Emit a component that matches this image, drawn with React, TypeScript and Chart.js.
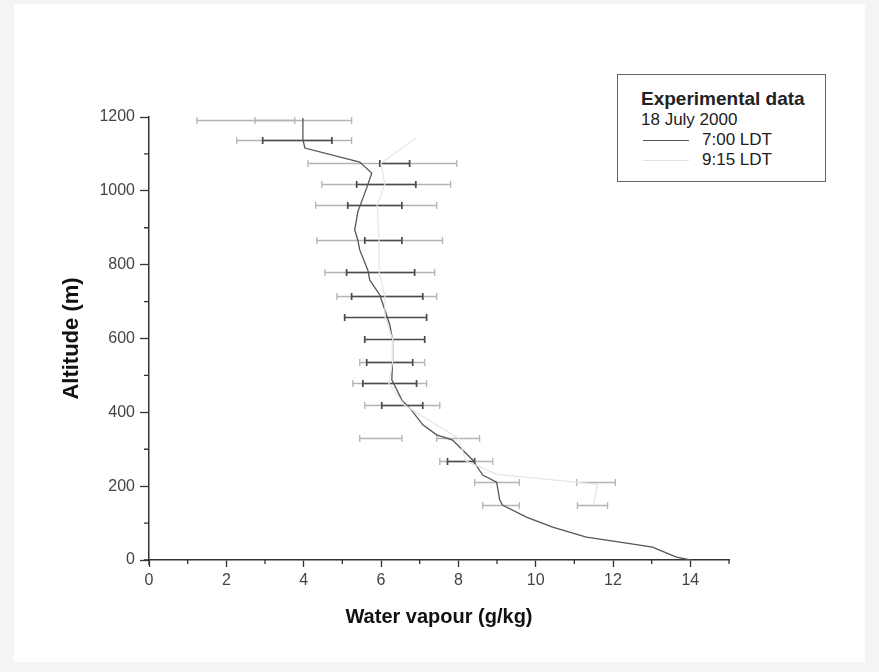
import React, { useEffect, useRef } from 'react';
import { Chart, registerables } from 'chart.js';

Chart.register(...registerables);

// Axis ticks
const xTickValues = [0, 2, 4, 6, 8, 10, 12, 14];
const xMinorValues = [1, 3, 5, 7, 9, 11, 13, 15];
const yTickValues = [0, 200, 400, 600, 800, 1000, 1200];
const yMinorValues = [100, 300, 500, 700, 900, 1100];

// 7:00 LDT profile (water vapour g/kg vs altitude m)
const profile700Vapour = [3.98, 3.98, 4.03, 5.45, 5.76, 5.63, 5.4, 5.32, 5.4, 5.45, 5.66, 5.71, 5.97, 6.1, 6.23, 6.3, 6.3, 6.28, 6.54, 6.79, 7.08, 7.44, 7.85, 8.11, 8.37, 8.63, 8.99, 9.07, 9.14, 9.76, 10.44, 11.31, 12.35, 13.02, 13.64, 14.0];
const profile700Alt = [1197, 1140, 1116, 1078, 1048, 1008, 943, 894, 867, 840, 785, 758, 718, 677, 636, 596, 542, 488, 433, 406, 366, 339, 325, 298, 271, 230, 211, 163, 149, 116, 89, 62, 46, 35, 8, 0];

// 9:15 LDT profile (faint)
const profile915Vapour = [11.5, 11.6, 9.0, 8.2, 8.0, 6.6, 6.2, 6.3, 6.3, 6.1, 6.1, 5.95, 5.95, 5.9, 6.1, 6.0, 6.9];
const profile915Alt = [150, 205, 232, 268, 330, 420, 479, 536, 599, 658, 715, 780, 867, 962, 1018, 1075, 1143];

// 7:00 LDT error bars
const bars700Alt = [1138, 1075, 1018, 962, 867, 780, 715, 658, 599, 536, 479, 420, 268];
const bars700Low = [2.94, 5.97, 5.37, 5.14, 5.58, 5.11, 5.24, 5.06, 5.58, 5.63, 5.53, 6.02, 7.72];
const bars700High = [4.73, 6.74, 6.9, 6.54, 6.54, 6.87, 7.08, 7.18, 7.13, 6.82, 6.92, 7.08, 8.42];

// 9:15 LDT error bars
const bars915Alt = [1192, 1192, 1138, 1075, 1018, 962, 867, 780, 715, 536, 479, 420, 330, 330, 268, 211, 211, 149, 149];
const bars915Low = [1.24, 2.74, 2.27, 4.11, 4.47, 4.31, 4.34, 4.55, 4.86, 5.45, 5.27, 5.58, 5.45, 7.44, 7.52, 8.42, 11.06, 8.63, 11.08];
const bars915High = [3.77, 5.24, 5.24, 7.96, 7.8, 7.44, 7.59, 7.39, 7.44, 7.13, 7.18, 7.52, 6.54, 8.55, 8.89, 9.58, 12.06, 9.58, 11.86];

const FONT = "'Liberation Sans', Arial, Helvetica, sans-serif";

const pagePlugin = {
  id: 'pageBg',
  beforeDraw(chart: any) {
    const { ctx, width, height } = chart;
    ctx.save();
    ctx.fillStyle = '#f4f4f4';
    ctx.fillRect(0, 0, width, height);
    ctx.fillStyle = '#ffffff';
    ctx.fillRect(14, 4, width - 28, height - 14);
    ctx.restore();
  },
};

const errorBarPlugin = {
  id: 'errorBars',
  beforeDatasetsDraw(chart: any) {
    const { ctx } = chart;
    const xs = chart.scales.x;
    const ys = chart.scales.y;
    const draw = (alts: number[], lows: number[], highs: number[], color: string, width: number) => {
      ctx.save();
      ctx.strokeStyle = color;
      ctx.lineWidth = width;
      alts.forEach((a, i) => {
        const py = Math.round(ys.getPixelForValue(a)) + 0.5;
        const x1 = xs.getPixelForValue(lows[i]);
        const x2 = xs.getPixelForValue(highs[i]);
        ctx.beginPath();
        ctx.moveTo(x1, py);
        ctx.lineTo(x2, py);
        ctx.moveTo(x1, py - 3.5);
        ctx.lineTo(x1, py + 3.5);
        ctx.moveTo(x2, py - 3.5);
        ctx.lineTo(x2, py + 3.5);
        ctx.stroke();
      });
      ctx.restore();
    };
    draw(bars915Alt, bars915Low, bars915High, '#b4b4b4', 1.3);
    draw(bars700Alt, bars700Low, bars700High, '#4a4a4a', 1.7);
  },
};

const minorTickPlugin = {
  id: 'minorTicks',
  afterDraw(chart: any) {
    const { ctx } = chart;
    const xs = chart.scales.x;
    const ys = chart.scales.y;
    const area = chart.chartArea;
    ctx.save();
    ctx.strokeStyle = '#333';
    ctx.lineWidth = 1.3;
    ctx.beginPath();
    xMinorValues.forEach((v) => {
      const px = xs.getPixelForValue(v);
      ctx.moveTo(px, area.bottom);
      ctx.lineTo(px, area.bottom + 4);
    });
    yMinorValues.forEach((v) => {
      const py = ys.getPixelForValue(v);
      ctx.moveTo(area.left - 5, py);
      ctx.lineTo(area.left, py);
    });
    ctx.moveTo(area.left - 5, area.bottom);
    ctx.lineTo(area.left, area.bottom);
    ctx.moveTo(area.left, area.bottom);
    ctx.lineTo(area.left, area.bottom + 5);
    ctx.stroke();
    ctx.restore();
  },
};

export default function App() {
  const ref = useRef<HTMLCanvasElement | null>(null);

  useEffect(() => {
    if (!ref.current) return;
    const chart = new Chart(ref.current, {
      type: 'scatter',
      data: {
        datasets: [
          {
            label: '9:15 LDT',
            data: profile915Vapour.map((v, i) => ({ x: v, y: profile915Alt[i] })),
            showLine: true,
            borderColor: '#e6e6e6',
            borderWidth: 1.2,
            pointRadius: 0,
            tension: 0,
          },
          {
            label: '7:00 LDT',
            data: profile700Vapour.map((v, i) => ({ x: v, y: profile700Alt[i] })),
            showLine: true,
            borderColor: '#555555',
            borderWidth: 1.3,
            pointRadius: 0,
            tension: 0,
          },
        ],
      },
      options: {
        animation: false,
        responsive: false,
        devicePixelRatio: 1,
        layout: { padding: { top: 117, right: 150, bottom: 0, left: 0 } },
        plugins: { legend: { display: false }, tooltip: { enabled: false } },
        scales: {
          x: {
            type: 'linear',
            position: 'bottom',
            min: 0,
            max: 15,
            afterFit: (s: any) => { s.height = 112; },
            afterBuildTicks: (s: any) => { s.ticks = xTickValues.map((v) => ({ value: v })); },
            grid: { drawOnChartArea: false, drawTicks: true, tickLength: 7, tickColor: '#333', tickWidth: 1.3 },
            border: { display: true, color: '#333', width: 1.5 },
            ticks: {
              color: '#444',
              padding: 4,
              font: { family: FONT, size: 16 },
              maxRotation: 0,
              callback: (v: any) => String(v),
            },
            title: {
              display: true,
              text: 'Water vapour (g/kg)',
              color: '#111',
              font: { family: FONT, size: 20, weight: 'bold' },
              padding: { top: 0, bottom: 43 },
            },
          },
          y: {
            type: 'linear',
            position: 'left',
            min: 0,
            max: 1200,
            afterFit: (s: any) => { s.width = 149; },
            afterBuildTicks: (s: any) => { s.ticks = yTickValues.map((v) => ({ value: v })); },
            grid: { drawOnChartArea: false, drawTicks: true, tickLength: 9, tickColor: '#333', tickWidth: 1.3 },
            border: { display: true, color: '#333', width: 1.5 },
            ticks: {
              color: '#444',
              padding: 5,
              font: { family: FONT, size: 16 },
              callback: (v: any) => String(v),
            },
            title: {
              display: true,
              text: 'Altitude (m)',
              color: '#111',
              font: { family: FONT, size: 22, weight: 'bold' },
              padding: { top: 59, bottom: 0 },
            },
          },
        },
      },
      plugins: [pagePlugin, errorBarPlugin, minorTickPlugin],
    } as any);
    return () => chart.destroy();
  }, []);

  const textStyle: React.CSSProperties = {
    position: 'absolute',
    fontFamily: FONT,
    fontSize: 17,
    lineHeight: '20px',
    color: '#222',
    whiteSpace: 'nowrap',
  };

  return (
    <div style={{ position: 'absolute', left: 0, top: 0, width: 879, height: 672 }}>
      <canvas ref={ref} width={879} height={672} style={{ display: 'block' }} />
      <div
        style={{
          position: 'absolute',
          left: 617,
          top: 74,
          width: 207,
          height: 106,
          border: '1.5px solid #666',
          background: '#fff',
        }}
      />
      <span style={{ ...textStyle, left: 641, top: 89, fontWeight: 'bold', fontSize: 19 }}>Experimental data</span>
      <span style={{ ...textStyle, left: 641, top: 110 }}>18 July 2000</span>
      <div style={{ position: 'absolute', left: 643, top: 140, width: 46, borderTop: '1px solid #555' }} />
      <span style={{ ...textStyle, left: 702, top: 130 }}>7:00 LDT</span>
      <div style={{ position: 'absolute', left: 643, top: 160, width: 46, borderTop: '1px solid #e0e0e0' }} />
      <span style={{ ...textStyle, left: 702, top: 150 }}>9:15 LDT</span>
    </div>
  );
}
